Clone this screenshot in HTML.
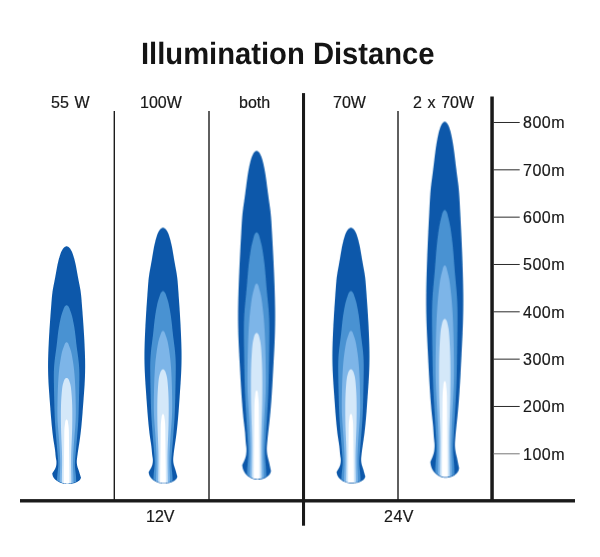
<!DOCTYPE html>
<html><head><meta charset="utf-8"><title>Illumination Distance</title>
<style>
html,body{margin:0;padding:0;background:#fff;}
body{width:600px;height:557px;position:relative;overflow:hidden;font-family:"Liberation Sans",sans-serif;}
svg{position:absolute;left:0;top:0;display:block;}
.t{position:absolute;white-space:nowrap;line-height:normal;color:#181818;-webkit-text-stroke:0.2px #181818;will-change:transform;font-family:"Liberation Sans",sans-serif;}
</style></head><body>
<svg width="600" height="557" viewBox="0 0 600 557">
<defs>
<clipPath id="c"><path d="M14.40,-9.40 L14.28,-9.97 L14.16,-10.54 L14.03,-11.11 L13.91,-11.68 L13.79,-12.25 L13.67,-12.82 L13.55,-13.39 L13.43,-13.96 L13.32,-14.53 L13.20,-15.10 L13.09,-15.63 L12.99,-16.16 L12.88,-16.69 L12.77,-17.22 L12.67,-17.75 L12.56,-18.28 L12.45,-18.81 L12.34,-19.34 L12.22,-19.87 L12.10,-20.40 L11.98,-20.92 L11.85,-21.44 L11.73,-21.96 L11.60,-22.48 L11.48,-23.00 L11.35,-23.51 L11.23,-24.03 L11.12,-24.55 L11.00,-25.08 L10.90,-25.60 L10.82,-26.06 L10.74,-26.51 L10.66,-26.97 L10.59,-27.43 L10.53,-27.89 L10.47,-28.35 L10.42,-28.81 L10.38,-29.27 L10.34,-29.74 L10.30,-30.20 L10.28,-30.57 L10.25,-30.94 L10.23,-31.31 L10.22,-31.68 L10.21,-32.05 L10.20,-32.42 L10.19,-32.79 L10.19,-33.16 L10.19,-33.53 L10.20,-33.90 L10.21,-34.28 L10.22,-34.66 L10.24,-35.04 L10.25,-35.42 L10.27,-35.80 L10.30,-36.18 L10.32,-36.56 L10.35,-36.94 L10.37,-37.32 L10.40,-37.70 L10.49,-38.93 L10.59,-40.16 L10.69,-41.39 L10.80,-42.62 L10.91,-43.85 L11.02,-45.08 L11.14,-46.31 L11.25,-47.54 L11.38,-48.77 L11.50,-50.00 L11.63,-51.25 L11.76,-52.50 L11.89,-53.75 L12.02,-55.00 L12.15,-56.25 L12.28,-57.50 L12.42,-58.75 L12.55,-60.00 L12.67,-61.25 L12.80,-62.50 L12.97,-64.22 L13.14,-65.94 L13.30,-67.66 L13.45,-69.38 L13.60,-71.10 L13.75,-72.82 L13.89,-74.54 L14.03,-76.26 L14.17,-77.98 L14.30,-79.70 L14.60,-83.90 L14.88,-88.09 L15.15,-92.29 L15.39,-96.49 L15.63,-100.69 L15.85,-104.89 L16.07,-109.09 L16.28,-113.30 L16.49,-117.50 L16.70,-121.70 L16.87,-125.03 L17.04,-128.36 L17.20,-131.69 L17.37,-135.02 L17.53,-138.35 L17.68,-141.68 L17.83,-145.01 L17.96,-148.34 L18.09,-151.67 L18.20,-155.00 L18.27,-157.27 L18.33,-159.54 L18.38,-161.81 L18.43,-164.08 L18.47,-166.35 L18.50,-168.62 L18.52,-170.89 L18.54,-173.16 L18.55,-175.43 L18.55,-177.70 L18.54,-179.93 L18.53,-182.16 L18.51,-184.39 L18.48,-186.62 L18.44,-188.85 L18.40,-191.08 L18.36,-193.31 L18.31,-195.54 L18.26,-197.77 L18.20,-200.00 L18.11,-203.37 L18.01,-206.74 L17.90,-210.11 L17.79,-213.48 L17.67,-216.85 L17.55,-220.22 L17.42,-223.59 L17.28,-226.96 L17.14,-230.33 L17.00,-233.70 L16.83,-237.58 L16.65,-241.46 L16.47,-245.34 L16.28,-249.22 L16.09,-253.10 L15.90,-256.98 L15.70,-260.86 L15.50,-264.74 L15.30,-268.62 L15.10,-272.50 L15.01,-274.22 L14.92,-275.94 L14.82,-277.67 L14.72,-279.39 L14.61,-281.11 L14.49,-282.83 L14.36,-284.55 L14.22,-286.27 L14.07,-287.98 L13.90,-289.70 L13.76,-290.97 L13.62,-292.24 L13.47,-293.51 L13.31,-294.79 L13.14,-296.05 L12.98,-297.32 L12.81,-298.59 L12.64,-299.86 L12.47,-301.13 L12.30,-302.40 L12.08,-304.10 L11.86,-305.80 L11.65,-307.50 L11.43,-309.20 L11.23,-310.90 L11.02,-312.60 L10.81,-314.30 L10.61,-316.00 L10.40,-317.70 L10.20,-319.40 L10.07,-320.48 L9.94,-321.56 L9.81,-322.65 L9.67,-323.73 L9.54,-324.81 L9.40,-325.89 L9.25,-326.97 L9.11,-328.05 L8.96,-329.12 L8.80,-330.20 L8.64,-331.28 L8.47,-332.36 L8.29,-333.44 L8.11,-334.52 L7.93,-335.60 L7.73,-336.68 L7.54,-337.75 L7.33,-338.83 L7.12,-339.92 L6.90,-341.00 L6.67,-342.10 L6.43,-343.20 L6.18,-344.30 L5.91,-345.40 L5.63,-346.48 L5.32,-347.56 L4.98,-348.62 L4.62,-349.67 L4.23,-350.69 L3.80,-351.70 L3.66,-352.00 L3.52,-352.31 L3.37,-352.60 L3.21,-352.90 L3.04,-353.19 L2.86,-353.48 L2.67,-353.77 L2.46,-354.05 L2.24,-354.33 L2.00,-354.60 L1.83,-354.78 L1.64,-354.96 L1.45,-355.13 L1.26,-355.29 L1.06,-355.43 L0.85,-355.56 L0.64,-355.66 L0.43,-355.73 L0.21,-355.78 L0.00,-355.80 L-0.21,-355.78 L-0.43,-355.73 L-0.64,-355.66 L-0.85,-355.56 L-1.06,-355.43 L-1.26,-355.29 L-1.45,-355.13 L-1.64,-354.96 L-1.83,-354.78 L-2.00,-354.60 L-2.24,-354.33 L-2.46,-354.05 L-2.67,-353.77 L-2.86,-353.48 L-3.04,-353.19 L-3.21,-352.90 L-3.37,-352.60 L-3.52,-352.31 L-3.66,-352.00 L-3.80,-351.70 L-4.23,-350.69 L-4.62,-349.67 L-4.98,-348.62 L-5.32,-347.56 L-5.63,-346.48 L-5.91,-345.40 L-6.18,-344.30 L-6.43,-343.20 L-6.67,-342.10 L-6.90,-341.00 L-7.12,-339.92 L-7.33,-338.83 L-7.54,-337.75 L-7.73,-336.68 L-7.93,-335.60 L-8.11,-334.52 L-8.29,-333.44 L-8.47,-332.36 L-8.64,-331.28 L-8.80,-330.20 L-8.96,-329.12 L-9.11,-328.05 L-9.25,-326.97 L-9.40,-325.89 L-9.54,-324.81 L-9.67,-323.73 L-9.81,-322.65 L-9.94,-321.56 L-10.07,-320.48 L-10.20,-319.40 L-10.40,-317.70 L-10.61,-316.00 L-10.81,-314.30 L-11.02,-312.60 L-11.23,-310.90 L-11.43,-309.20 L-11.65,-307.50 L-11.86,-305.80 L-12.08,-304.10 L-12.30,-302.40 L-12.47,-301.13 L-12.64,-299.86 L-12.81,-298.59 L-12.98,-297.32 L-13.14,-296.05 L-13.31,-294.79 L-13.47,-293.51 L-13.62,-292.24 L-13.76,-290.97 L-13.90,-289.70 L-14.07,-287.98 L-14.22,-286.27 L-14.36,-284.55 L-14.49,-282.83 L-14.61,-281.11 L-14.72,-279.39 L-14.82,-277.67 L-14.92,-275.94 L-15.01,-274.22 L-15.10,-272.50 L-15.30,-268.62 L-15.50,-264.74 L-15.70,-260.86 L-15.90,-256.98 L-16.09,-253.10 L-16.28,-249.22 L-16.47,-245.34 L-16.65,-241.46 L-16.83,-237.58 L-17.00,-233.70 L-17.14,-230.33 L-17.28,-226.96 L-17.42,-223.59 L-17.55,-220.22 L-17.67,-216.85 L-17.79,-213.48 L-17.90,-210.11 L-18.01,-206.74 L-18.11,-203.37 L-18.20,-200.00 L-18.26,-197.77 L-18.31,-195.54 L-18.36,-193.31 L-18.40,-191.08 L-18.44,-188.85 L-18.48,-186.62 L-18.51,-184.39 L-18.53,-182.16 L-18.54,-179.93 L-18.55,-177.70 L-18.55,-175.43 L-18.54,-173.16 L-18.52,-170.89 L-18.50,-168.62 L-18.47,-166.35 L-18.43,-164.08 L-18.38,-161.81 L-18.33,-159.54 L-18.27,-157.27 L-18.20,-155.00 L-18.09,-151.67 L-17.96,-148.34 L-17.83,-145.01 L-17.68,-141.68 L-17.53,-138.35 L-17.37,-135.02 L-17.21,-131.69 L-17.04,-128.36 L-16.87,-125.03 L-16.70,-121.70 L-16.49,-117.50 L-16.27,-113.30 L-16.06,-109.10 L-15.84,-104.89 L-15.61,-100.69 L-15.37,-96.49 L-15.13,-92.29 L-14.87,-88.09 L-14.59,-83.90 L-14.30,-79.70 L-14.17,-77.98 L-14.04,-76.26 L-13.91,-74.53 L-13.77,-72.81 L-13.63,-71.09 L-13.48,-69.37 L-13.32,-67.65 L-13.15,-65.94 L-12.98,-64.22 L-12.80,-62.50 L-12.66,-61.25 L-12.52,-60.00 L-12.38,-58.75 L-12.24,-57.50 L-12.10,-56.25 L-11.97,-55.00 L-11.84,-53.75 L-11.72,-52.50 L-11.60,-51.25 L-11.50,-50.00 L-11.41,-48.77 L-11.33,-47.54 L-11.25,-46.31 L-11.18,-45.08 L-11.11,-43.85 L-11.03,-42.62 L-10.94,-41.38 L-10.84,-40.16 L-10.73,-38.93 L-10.60,-37.70 L-10.56,-37.32 L-10.51,-36.94 L-10.47,-36.56 L-10.42,-36.18 L-10.38,-35.80 L-10.33,-35.42 L-10.29,-35.04 L-10.26,-34.66 L-10.23,-34.28 L-10.20,-33.90 L-10.18,-33.53 L-10.16,-33.16 L-10.15,-32.79 L-10.15,-32.42 L-10.15,-32.05 L-10.15,-31.68 L-10.16,-31.31 L-10.17,-30.94 L-10.18,-30.57 L-10.20,-30.20 L-10.23,-29.66 L-10.27,-29.13 L-10.31,-28.60 L-10.37,-28.06 L-10.43,-27.53 L-10.50,-27.00 L-10.58,-26.47 L-10.68,-25.94 L-10.78,-25.42 L-10.90,-24.90 L-11.02,-24.44 L-11.14,-23.98 L-11.27,-23.53 L-11.42,-23.08 L-11.57,-22.62 L-11.72,-22.18 L-11.88,-21.73 L-12.05,-21.28 L-12.22,-20.84 L-12.40,-20.40 L-12.59,-19.93 L-12.78,-19.47 L-12.98,-19.01 L-13.18,-18.55 L-13.38,-18.09 L-13.58,-17.63 L-13.78,-17.17 L-13.99,-16.71 L-14.19,-16.26 L-14.40,-15.80 L-14.34,-15.34 L-14.28,-14.89 L-14.22,-14.44 L-14.16,-13.98 L-14.08,-13.53 L-14.01,-13.08 L-13.92,-12.63 L-13.83,-12.19 L-13.72,-11.74 L-13.60,-11.30 L-13.43,-10.73 L-13.23,-10.17 L-13.01,-9.61 L-12.77,-9.06 L-12.51,-8.52 L-12.22,-7.99 L-11.92,-7.48 L-11.60,-6.97 L-11.26,-6.48 L-10.90,-6.00 L-10.55,-5.57 L-10.19,-5.15 L-9.81,-4.75 L-9.41,-4.36 L-9.01,-3.98 L-8.59,-3.62 L-8.16,-3.27 L-7.72,-2.93 L-7.26,-2.61 L-6.80,-2.30 L-6.41,-2.05 L-6.01,-1.82 L-5.60,-1.59 L-5.19,-1.38 L-4.77,-1.18 L-4.35,-1.00 L-3.92,-0.83 L-3.48,-0.67 L-3.04,-0.53 L-2.60,-0.40 L-2.34,-0.34 L-2.09,-0.28 L-1.83,-0.22 L-1.57,-0.17 L-1.31,-0.13 L-1.05,-0.09 L-0.79,-0.06 L-0.53,-0.04 L-0.26,-0.02 L0.00,-0.00 L0.34,0.01 L0.68,0.01 L1.02,0.01 L1.36,-0.00 L1.70,-0.02 L2.04,-0.05 L2.38,-0.08 L2.72,-0.11 L3.06,-0.16 L3.40,-0.20 L3.79,-0.26 L4.18,-0.32 L4.57,-0.38 L4.95,-0.46 L5.33,-0.54 L5.71,-0.63 L6.09,-0.73 L6.47,-0.84 L6.84,-0.96 L7.20,-1.10 L7.60,-1.27 L7.99,-1.45 L8.38,-1.65 L8.76,-1.86 L9.14,-2.08 L9.50,-2.32 L9.86,-2.58 L10.22,-2.84 L10.56,-3.11 L10.90,-3.40 L11.23,-3.69 L11.55,-4.00 L11.86,-4.31 L12.16,-4.64 L12.44,-4.97 L12.71,-5.32 L12.97,-5.67 L13.20,-6.04 L13.41,-6.41 L13.60,-6.80 L13.71,-7.05 L13.81,-7.30 L13.90,-7.55 L13.98,-7.81 L14.06,-8.07 L14.13,-8.34 L14.20,-8.60 L14.27,-8.87 L14.34,-9.13Z" transform="translate(0,-0.9)"/></clipPath>
<g id="p"><path d="M14.40,-9.40 L14.28,-9.97 L14.16,-10.54 L14.03,-11.11 L13.91,-11.68 L13.79,-12.25 L13.67,-12.82 L13.55,-13.39 L13.43,-13.96 L13.32,-14.53 L13.20,-15.10 L13.09,-15.63 L12.99,-16.16 L12.88,-16.69 L12.77,-17.22 L12.67,-17.75 L12.56,-18.28 L12.45,-18.81 L12.34,-19.34 L12.22,-19.87 L12.10,-20.40 L11.98,-20.92 L11.85,-21.44 L11.73,-21.96 L11.60,-22.48 L11.48,-23.00 L11.35,-23.51 L11.23,-24.03 L11.12,-24.55 L11.00,-25.08 L10.90,-25.60 L10.82,-26.06 L10.74,-26.51 L10.66,-26.97 L10.59,-27.43 L10.53,-27.89 L10.47,-28.35 L10.42,-28.81 L10.38,-29.27 L10.34,-29.74 L10.30,-30.20 L10.28,-30.57 L10.25,-30.94 L10.23,-31.31 L10.22,-31.68 L10.21,-32.05 L10.20,-32.42 L10.19,-32.79 L10.19,-33.16 L10.19,-33.53 L10.20,-33.90 L10.21,-34.28 L10.22,-34.66 L10.24,-35.04 L10.25,-35.42 L10.27,-35.80 L10.30,-36.18 L10.32,-36.56 L10.35,-36.94 L10.37,-37.32 L10.40,-37.70 L10.49,-38.93 L10.59,-40.16 L10.69,-41.39 L10.80,-42.62 L10.91,-43.85 L11.02,-45.08 L11.14,-46.31 L11.25,-47.54 L11.38,-48.77 L11.50,-50.00 L11.63,-51.25 L11.76,-52.50 L11.89,-53.75 L12.02,-55.00 L12.15,-56.25 L12.28,-57.50 L12.42,-58.75 L12.55,-60.00 L12.67,-61.25 L12.80,-62.50 L12.97,-64.22 L13.14,-65.94 L13.30,-67.66 L13.45,-69.38 L13.60,-71.10 L13.75,-72.82 L13.89,-74.54 L14.03,-76.26 L14.17,-77.98 L14.30,-79.70 L14.60,-83.90 L14.88,-88.09 L15.15,-92.29 L15.39,-96.49 L15.63,-100.69 L15.85,-104.89 L16.07,-109.09 L16.28,-113.30 L16.49,-117.50 L16.70,-121.70 L16.87,-125.03 L17.04,-128.36 L17.20,-131.69 L17.37,-135.02 L17.53,-138.35 L17.68,-141.68 L17.83,-145.01 L17.96,-148.34 L18.09,-151.67 L18.20,-155.00 L18.27,-157.27 L18.33,-159.54 L18.38,-161.81 L18.43,-164.08 L18.47,-166.35 L18.50,-168.62 L18.52,-170.89 L18.54,-173.16 L18.55,-175.43 L18.55,-177.70 L18.54,-179.93 L18.53,-182.16 L18.51,-184.39 L18.48,-186.62 L18.44,-188.85 L18.40,-191.08 L18.36,-193.31 L18.31,-195.54 L18.26,-197.77 L18.20,-200.00 L18.11,-203.37 L18.01,-206.74 L17.90,-210.11 L17.79,-213.48 L17.67,-216.85 L17.55,-220.22 L17.42,-223.59 L17.28,-226.96 L17.14,-230.33 L17.00,-233.70 L16.83,-237.58 L16.65,-241.46 L16.47,-245.34 L16.28,-249.22 L16.09,-253.10 L15.90,-256.98 L15.70,-260.86 L15.50,-264.74 L15.30,-268.62 L15.10,-272.50 L15.01,-274.22 L14.92,-275.94 L14.82,-277.67 L14.72,-279.39 L14.61,-281.11 L14.49,-282.83 L14.36,-284.55 L14.22,-286.27 L14.07,-287.98 L13.90,-289.70 L13.76,-290.97 L13.62,-292.24 L13.47,-293.51 L13.31,-294.79 L13.14,-296.05 L12.98,-297.32 L12.81,-298.59 L12.64,-299.86 L12.47,-301.13 L12.30,-302.40 L12.08,-304.10 L11.86,-305.80 L11.65,-307.50 L11.43,-309.20 L11.23,-310.90 L11.02,-312.60 L10.81,-314.30 L10.61,-316.00 L10.40,-317.70 L10.20,-319.40 L10.07,-320.48 L9.94,-321.56 L9.81,-322.65 L9.67,-323.73 L9.54,-324.81 L9.40,-325.89 L9.25,-326.97 L9.11,-328.05 L8.96,-329.12 L8.80,-330.20 L8.64,-331.28 L8.47,-332.36 L8.29,-333.44 L8.11,-334.52 L7.93,-335.60 L7.73,-336.68 L7.54,-337.75 L7.33,-338.83 L7.12,-339.92 L6.90,-341.00 L6.67,-342.10 L6.43,-343.20 L6.18,-344.30 L5.91,-345.40 L5.63,-346.48 L5.32,-347.56 L4.98,-348.62 L4.62,-349.67 L4.23,-350.69 L3.80,-351.70 L3.66,-352.00 L3.52,-352.31 L3.37,-352.60 L3.21,-352.90 L3.04,-353.19 L2.86,-353.48 L2.67,-353.77 L2.46,-354.05 L2.24,-354.33 L2.00,-354.60 L1.83,-354.78 L1.64,-354.96 L1.45,-355.13 L1.26,-355.29 L1.06,-355.43 L0.85,-355.56 L0.64,-355.66 L0.43,-355.73 L0.21,-355.78 L0.00,-355.80 L-0.21,-355.78 L-0.43,-355.73 L-0.64,-355.66 L-0.85,-355.56 L-1.06,-355.43 L-1.26,-355.29 L-1.45,-355.13 L-1.64,-354.96 L-1.83,-354.78 L-2.00,-354.60 L-2.24,-354.33 L-2.46,-354.05 L-2.67,-353.77 L-2.86,-353.48 L-3.04,-353.19 L-3.21,-352.90 L-3.37,-352.60 L-3.52,-352.31 L-3.66,-352.00 L-3.80,-351.70 L-4.23,-350.69 L-4.62,-349.67 L-4.98,-348.62 L-5.32,-347.56 L-5.63,-346.48 L-5.91,-345.40 L-6.18,-344.30 L-6.43,-343.20 L-6.67,-342.10 L-6.90,-341.00 L-7.12,-339.92 L-7.33,-338.83 L-7.54,-337.75 L-7.73,-336.68 L-7.93,-335.60 L-8.11,-334.52 L-8.29,-333.44 L-8.47,-332.36 L-8.64,-331.28 L-8.80,-330.20 L-8.96,-329.12 L-9.11,-328.05 L-9.25,-326.97 L-9.40,-325.89 L-9.54,-324.81 L-9.67,-323.73 L-9.81,-322.65 L-9.94,-321.56 L-10.07,-320.48 L-10.20,-319.40 L-10.40,-317.70 L-10.61,-316.00 L-10.81,-314.30 L-11.02,-312.60 L-11.23,-310.90 L-11.43,-309.20 L-11.65,-307.50 L-11.86,-305.80 L-12.08,-304.10 L-12.30,-302.40 L-12.47,-301.13 L-12.64,-299.86 L-12.81,-298.59 L-12.98,-297.32 L-13.14,-296.05 L-13.31,-294.79 L-13.47,-293.51 L-13.62,-292.24 L-13.76,-290.97 L-13.90,-289.70 L-14.07,-287.98 L-14.22,-286.27 L-14.36,-284.55 L-14.49,-282.83 L-14.61,-281.11 L-14.72,-279.39 L-14.82,-277.67 L-14.92,-275.94 L-15.01,-274.22 L-15.10,-272.50 L-15.30,-268.62 L-15.50,-264.74 L-15.70,-260.86 L-15.90,-256.98 L-16.09,-253.10 L-16.28,-249.22 L-16.47,-245.34 L-16.65,-241.46 L-16.83,-237.58 L-17.00,-233.70 L-17.14,-230.33 L-17.28,-226.96 L-17.42,-223.59 L-17.55,-220.22 L-17.67,-216.85 L-17.79,-213.48 L-17.90,-210.11 L-18.01,-206.74 L-18.11,-203.37 L-18.20,-200.00 L-18.26,-197.77 L-18.31,-195.54 L-18.36,-193.31 L-18.40,-191.08 L-18.44,-188.85 L-18.48,-186.62 L-18.51,-184.39 L-18.53,-182.16 L-18.54,-179.93 L-18.55,-177.70 L-18.55,-175.43 L-18.54,-173.16 L-18.52,-170.89 L-18.50,-168.62 L-18.47,-166.35 L-18.43,-164.08 L-18.38,-161.81 L-18.33,-159.54 L-18.27,-157.27 L-18.20,-155.00 L-18.09,-151.67 L-17.96,-148.34 L-17.83,-145.01 L-17.68,-141.68 L-17.53,-138.35 L-17.37,-135.02 L-17.21,-131.69 L-17.04,-128.36 L-16.87,-125.03 L-16.70,-121.70 L-16.49,-117.50 L-16.27,-113.30 L-16.06,-109.10 L-15.84,-104.89 L-15.61,-100.69 L-15.37,-96.49 L-15.13,-92.29 L-14.87,-88.09 L-14.59,-83.90 L-14.30,-79.70 L-14.17,-77.98 L-14.04,-76.26 L-13.91,-74.53 L-13.77,-72.81 L-13.63,-71.09 L-13.48,-69.37 L-13.32,-67.65 L-13.15,-65.94 L-12.98,-64.22 L-12.80,-62.50 L-12.66,-61.25 L-12.52,-60.00 L-12.38,-58.75 L-12.24,-57.50 L-12.10,-56.25 L-11.97,-55.00 L-11.84,-53.75 L-11.72,-52.50 L-11.60,-51.25 L-11.50,-50.00 L-11.41,-48.77 L-11.33,-47.54 L-11.25,-46.31 L-11.18,-45.08 L-11.11,-43.85 L-11.03,-42.62 L-10.94,-41.38 L-10.84,-40.16 L-10.73,-38.93 L-10.60,-37.70 L-10.56,-37.32 L-10.51,-36.94 L-10.47,-36.56 L-10.42,-36.18 L-10.38,-35.80 L-10.33,-35.42 L-10.29,-35.04 L-10.26,-34.66 L-10.23,-34.28 L-10.20,-33.90 L-10.18,-33.53 L-10.16,-33.16 L-10.15,-32.79 L-10.15,-32.42 L-10.15,-32.05 L-10.15,-31.68 L-10.16,-31.31 L-10.17,-30.94 L-10.18,-30.57 L-10.20,-30.20 L-10.23,-29.66 L-10.27,-29.13 L-10.31,-28.60 L-10.37,-28.06 L-10.43,-27.53 L-10.50,-27.00 L-10.58,-26.47 L-10.68,-25.94 L-10.78,-25.42 L-10.90,-24.90 L-11.02,-24.44 L-11.14,-23.98 L-11.27,-23.53 L-11.42,-23.08 L-11.57,-22.62 L-11.72,-22.18 L-11.88,-21.73 L-12.05,-21.28 L-12.22,-20.84 L-12.40,-20.40 L-12.59,-19.93 L-12.78,-19.47 L-12.98,-19.01 L-13.18,-18.55 L-13.38,-18.09 L-13.58,-17.63 L-13.78,-17.17 L-13.99,-16.71 L-14.19,-16.26 L-14.40,-15.80 L-14.34,-15.34 L-14.28,-14.89 L-14.22,-14.44 L-14.16,-13.98 L-14.08,-13.53 L-14.01,-13.08 L-13.92,-12.63 L-13.83,-12.19 L-13.72,-11.74 L-13.60,-11.30 L-13.43,-10.73 L-13.23,-10.17 L-13.01,-9.61 L-12.77,-9.06 L-12.51,-8.52 L-12.22,-7.99 L-11.92,-7.48 L-11.60,-6.97 L-11.26,-6.48 L-10.90,-6.00 L-10.55,-5.57 L-10.19,-5.15 L-9.81,-4.75 L-9.41,-4.36 L-9.01,-3.98 L-8.59,-3.62 L-8.16,-3.27 L-7.72,-2.93 L-7.26,-2.61 L-6.80,-2.30 L-6.41,-2.05 L-6.01,-1.82 L-5.60,-1.59 L-5.19,-1.38 L-4.77,-1.18 L-4.35,-1.00 L-3.92,-0.83 L-3.48,-0.67 L-3.04,-0.53 L-2.60,-0.40 L-2.34,-0.34 L-2.09,-0.28 L-1.83,-0.22 L-1.57,-0.17 L-1.31,-0.13 L-1.05,-0.09 L-0.79,-0.06 L-0.53,-0.04 L-0.26,-0.02 L0.00,-0.00 L0.34,0.01 L0.68,0.01 L1.02,0.01 L1.36,-0.00 L1.70,-0.02 L2.04,-0.05 L2.38,-0.08 L2.72,-0.11 L3.06,-0.16 L3.40,-0.20 L3.79,-0.26 L4.18,-0.32 L4.57,-0.38 L4.95,-0.46 L5.33,-0.54 L5.71,-0.63 L6.09,-0.73 L6.47,-0.84 L6.84,-0.96 L7.20,-1.10 L7.60,-1.27 L7.99,-1.45 L8.38,-1.65 L8.76,-1.86 L9.14,-2.08 L9.50,-2.32 L9.86,-2.58 L10.22,-2.84 L10.56,-3.11 L10.90,-3.40 L11.23,-3.69 L11.55,-4.00 L11.86,-4.31 L12.16,-4.64 L12.44,-4.97 L12.71,-5.32 L12.97,-5.67 L13.20,-6.04 L13.41,-6.41 L13.60,-6.80 L13.71,-7.05 L13.81,-7.30 L13.90,-7.55 L13.98,-7.81 L14.06,-8.07 L14.13,-8.34 L14.20,-8.60 L14.27,-8.87 L14.34,-9.13Z" fill="#0c59aa"/><g clip-path="url(#c)">
<path d="M9.90,8.00 L9.87,6.80 L9.83,5.60 L9.80,4.40 L9.77,3.20 L9.74,2.00 L9.71,0.80 L9.68,-0.40 L9.65,-1.60 L9.63,-2.80 L9.60,-4.00 L9.59,-4.70 L9.57,-5.40 L9.56,-6.10 L9.54,-6.80 L9.52,-7.50 L9.51,-8.20 L9.48,-8.90 L9.46,-9.60 L9.43,-10.30 L9.40,-11.00 L9.34,-12.10 L9.27,-13.20 L9.20,-14.30 L9.11,-15.40 L9.03,-16.50 L8.94,-17.60 L8.85,-18.70 L8.76,-19.80 L8.68,-20.90 L8.60,-22.00 L8.55,-22.80 L8.50,-23.60 L8.45,-24.40 L8.41,-25.20 L8.38,-26.00 L8.35,-26.80 L8.32,-27.60 L8.31,-28.40 L8.30,-29.20 L8.30,-30.00 L8.31,-30.77 L8.32,-31.54 L8.34,-32.31 L8.37,-33.08 L8.40,-33.85 L8.44,-34.62 L8.47,-35.39 L8.51,-36.16 L8.56,-36.93 L8.60,-37.70 L8.84,-41.90 L9.08,-46.10 L9.33,-50.30 L9.57,-54.50 L9.82,-58.70 L10.06,-62.90 L10.31,-67.10 L10.54,-71.30 L10.77,-75.50 L11.00,-79.70 L11.05,-80.73 L11.11,-81.76 L11.16,-82.79 L11.21,-83.82 L11.26,-84.85 L11.31,-85.88 L11.36,-86.91 L11.41,-87.94 L11.46,-88.97 L11.50,-90.00 L11.63,-93.17 L11.74,-96.34 L11.84,-99.51 L11.93,-102.68 L12.00,-105.85 L12.07,-109.02 L12.14,-112.19 L12.19,-115.36 L12.25,-118.53 L12.30,-121.70 L12.35,-124.53 L12.39,-127.36 L12.43,-130.19 L12.48,-133.02 L12.52,-135.85 L12.56,-138.68 L12.60,-141.51 L12.63,-144.34 L12.67,-147.17 L12.70,-150.00 L12.73,-152.77 L12.75,-155.54 L12.77,-158.32 L12.78,-161.09 L12.77,-163.86 L12.74,-166.63 L12.69,-169.40 L12.62,-172.17 L12.53,-174.93 L12.40,-177.70 L12.24,-180.49 L12.05,-183.28 L11.84,-186.08 L11.61,-188.86 L11.36,-191.65 L11.11,-194.44 L10.85,-197.23 L10.59,-200.02 L10.34,-202.81 L10.10,-205.60 L9.87,-208.41 L9.65,-211.22 L9.44,-214.04 L9.24,-216.85 L9.03,-219.66 L8.81,-222.47 L8.59,-225.28 L8.35,-228.09 L8.08,-230.90 L7.80,-233.70 L7.67,-234.90 L7.53,-236.10 L7.39,-237.30 L7.25,-238.50 L7.10,-239.70 L6.95,-240.90 L6.79,-242.10 L6.63,-243.30 L6.47,-244.50 L6.30,-245.70 L6.22,-246.28 L6.14,-246.86 L6.05,-247.45 L5.97,-248.03 L5.88,-248.61 L5.79,-249.19 L5.70,-249.77 L5.60,-250.35 L5.50,-250.92 L5.40,-251.50 L5.30,-252.03 L5.20,-252.56 L5.10,-253.09 L4.99,-253.62 L4.88,-254.15 L4.77,-254.68 L4.66,-255.21 L4.54,-255.74 L4.42,-256.27 L4.30,-256.80 L4.17,-257.35 L4.04,-257.89 L3.91,-258.44 L3.78,-258.99 L3.65,-259.53 L3.52,-260.07 L3.38,-260.61 L3.25,-261.14 L3.13,-261.67 L3.00,-262.20 L2.90,-262.62 L2.80,-263.04 L2.69,-263.46 L2.57,-263.87 L2.43,-264.29 L2.28,-264.70 L2.10,-265.12 L1.90,-265.54 L1.67,-265.97 L1.40,-266.40 L1.28,-266.58 L1.15,-266.75 L1.02,-266.92 L0.88,-267.08 L0.74,-267.22 L0.60,-267.35 L0.45,-267.45 L0.30,-267.53 L0.15,-267.58 L0.00,-267.60 L-0.15,-267.58 L-0.30,-267.53 L-0.45,-267.45 L-0.60,-267.35 L-0.74,-267.22 L-0.88,-267.08 L-1.02,-266.92 L-1.15,-266.75 L-1.28,-266.58 L-1.40,-266.40 L-1.67,-265.97 L-1.90,-265.54 L-2.10,-265.12 L-2.28,-264.70 L-2.43,-264.29 L-2.57,-263.87 L-2.69,-263.46 L-2.80,-263.04 L-2.90,-262.62 L-3.00,-262.20 L-3.13,-261.67 L-3.25,-261.14 L-3.38,-260.61 L-3.52,-260.07 L-3.65,-259.53 L-3.78,-258.99 L-3.91,-258.44 L-4.04,-257.89 L-4.17,-257.35 L-4.30,-256.80 L-4.42,-256.27 L-4.54,-255.74 L-4.66,-255.21 L-4.77,-254.68 L-4.88,-254.15 L-4.99,-253.62 L-5.10,-253.09 L-5.20,-252.56 L-5.30,-252.03 L-5.40,-251.50 L-5.50,-250.92 L-5.60,-250.35 L-5.70,-249.77 L-5.79,-249.19 L-5.88,-248.61 L-5.97,-248.03 L-6.05,-247.45 L-6.14,-246.86 L-6.22,-246.28 L-6.30,-245.70 L-6.47,-244.50 L-6.63,-243.30 L-6.79,-242.10 L-6.95,-240.90 L-7.10,-239.70 L-7.25,-238.50 L-7.39,-237.30 L-7.53,-236.10 L-7.67,-234.90 L-7.80,-233.70 L-8.08,-230.90 L-8.35,-228.09 L-8.59,-225.28 L-8.81,-222.47 L-9.03,-219.66 L-9.24,-216.85 L-9.44,-214.04 L-9.65,-211.22 L-9.87,-208.41 L-10.10,-205.60 L-10.34,-202.81 L-10.59,-200.02 L-10.85,-197.23 L-11.11,-194.44 L-11.36,-191.65 L-11.61,-188.86 L-11.84,-186.08 L-12.05,-183.28 L-12.24,-180.49 L-12.40,-177.70 L-12.53,-174.93 L-12.62,-172.17 L-12.69,-169.40 L-12.74,-166.63 L-12.77,-163.86 L-12.78,-161.09 L-12.77,-158.32 L-12.75,-155.54 L-12.73,-152.77 L-12.70,-150.00 L-12.67,-147.17 L-12.63,-144.34 L-12.60,-141.51 L-12.56,-138.68 L-12.52,-135.85 L-12.48,-133.02 L-12.43,-130.19 L-12.39,-127.36 L-12.35,-124.53 L-12.30,-121.70 L-12.25,-118.53 L-12.19,-115.36 L-12.14,-112.19 L-12.07,-109.02 L-12.00,-105.85 L-11.93,-102.68 L-11.84,-99.51 L-11.74,-96.34 L-11.63,-93.17 L-11.50,-90.00 L-11.46,-88.97 L-11.41,-87.94 L-11.36,-86.91 L-11.31,-85.88 L-11.26,-84.85 L-11.21,-83.82 L-11.16,-82.79 L-11.11,-81.76 L-11.05,-80.73 L-11.00,-79.70 L-10.77,-75.50 L-10.54,-71.30 L-10.31,-67.10 L-10.06,-62.90 L-9.82,-58.70 L-9.57,-54.50 L-9.33,-50.30 L-9.08,-46.10 L-8.84,-41.90 L-8.60,-37.70 L-8.56,-36.93 L-8.51,-36.16 L-8.47,-35.39 L-8.44,-34.62 L-8.40,-33.85 L-8.37,-33.08 L-8.34,-32.31 L-8.32,-31.54 L-8.31,-30.77 L-8.30,-30.00 L-8.30,-29.20 L-8.31,-28.40 L-8.32,-27.60 L-8.35,-26.80 L-8.38,-26.00 L-8.41,-25.20 L-8.45,-24.40 L-8.50,-23.60 L-8.55,-22.80 L-8.60,-22.00 L-8.68,-20.90 L-8.76,-19.80 L-8.85,-18.70 L-8.94,-17.60 L-9.03,-16.50 L-9.11,-15.40 L-9.20,-14.30 L-9.27,-13.20 L-9.34,-12.10 L-9.40,-11.00 L-9.43,-10.30 L-9.46,-9.60 L-9.48,-8.90 L-9.51,-8.20 L-9.52,-7.50 L-9.54,-6.80 L-9.56,-6.10 L-9.57,-5.40 L-9.59,-4.70 L-9.60,-4.00 L-9.63,-2.80 L-9.65,-1.60 L-9.68,-0.40 L-9.71,0.80 L-9.74,2.00 L-9.77,3.20 L-9.80,4.40 L-9.83,5.60 L-9.87,6.80 L-9.90,8.00Z" fill="#4a92d2"/>
<path d="M7.10,8.00 L7.08,6.80 L7.06,5.60 L7.03,4.40 L7.01,3.20 L6.99,2.00 L6.97,0.80 L6.95,-0.40 L6.93,-1.60 L6.92,-2.80 L6.90,-4.00 L6.89,-4.70 L6.88,-5.40 L6.87,-6.10 L6.87,-6.80 L6.86,-7.50 L6.85,-8.20 L6.84,-8.90 L6.83,-9.60 L6.81,-10.30 L6.80,-11.00 L6.78,-12.10 L6.75,-13.20 L6.72,-14.30 L6.69,-15.40 L6.66,-16.50 L6.62,-17.60 L6.59,-18.70 L6.56,-19.80 L6.53,-20.90 L6.50,-22.00 L6.48,-22.80 L6.46,-23.60 L6.45,-24.40 L6.44,-25.20 L6.42,-26.00 L6.42,-26.80 L6.41,-27.60 L6.40,-28.40 L6.40,-29.20 L6.40,-30.00 L6.40,-30.77 L6.41,-31.54 L6.41,-32.31 L6.42,-33.08 L6.43,-33.85 L6.44,-34.62 L6.45,-35.39 L6.47,-36.16 L6.48,-36.93 L6.50,-37.70 L6.60,-41.90 L6.73,-46.10 L6.88,-50.31 L7.05,-54.51 L7.24,-58.71 L7.43,-62.90 L7.64,-67.10 L7.86,-71.30 L8.08,-75.50 L8.30,-79.70 L8.38,-81.23 L8.46,-82.76 L8.54,-84.29 L8.62,-85.82 L8.69,-87.35 L8.76,-88.88 L8.83,-90.41 L8.89,-91.94 L8.95,-93.47 L9.00,-95.00 L9.07,-97.67 L9.13,-100.34 L9.16,-103.01 L9.19,-105.68 L9.19,-108.35 L9.19,-111.02 L9.18,-113.69 L9.16,-116.36 L9.13,-119.03 L9.10,-121.70 L9.06,-124.53 L9.02,-127.36 L8.98,-130.19 L8.93,-133.02 L8.88,-135.85 L8.82,-138.68 L8.75,-141.51 L8.67,-144.34 L8.59,-147.17 L8.50,-150.00 L8.40,-152.77 L8.29,-155.55 L8.17,-158.32 L8.04,-161.09 L7.89,-163.86 L7.73,-166.64 L7.55,-169.40 L7.35,-172.17 L7.14,-174.94 L6.90,-177.70 L6.77,-179.10 L6.64,-180.50 L6.50,-181.90 L6.35,-183.30 L6.20,-184.70 L6.05,-186.10 L5.89,-187.50 L5.73,-188.90 L5.57,-190.30 L5.40,-191.70 L5.33,-192.28 L5.26,-192.86 L5.19,-193.45 L5.11,-194.03 L5.03,-194.61 L4.95,-195.19 L4.87,-195.77 L4.78,-196.35 L4.69,-196.92 L4.60,-197.50 L4.51,-198.03 L4.41,-198.56 L4.31,-199.09 L4.21,-199.62 L4.10,-200.15 L3.99,-200.68 L3.87,-201.21 L3.75,-201.74 L3.63,-202.27 L3.50,-202.80 L3.36,-203.35 L3.23,-203.89 L3.09,-204.44 L2.95,-204.99 L2.81,-205.53 L2.67,-206.07 L2.53,-206.61 L2.40,-207.15 L2.27,-207.68 L2.15,-208.20 L2.08,-208.50 L2.02,-208.79 L1.95,-209.09 L1.87,-209.38 L1.78,-209.68 L1.68,-209.98 L1.57,-210.28 L1.43,-210.58 L1.28,-210.89 L1.10,-211.20 L1.01,-211.35 L0.91,-211.49 L0.81,-211.63 L0.70,-211.76 L0.59,-211.88 L0.47,-211.99 L0.36,-212.08 L0.24,-212.14 L0.12,-212.19 L0.00,-212.20 L-0.12,-212.19 L-0.24,-212.14 L-0.36,-212.08 L-0.47,-211.99 L-0.59,-211.88 L-0.70,-211.76 L-0.81,-211.63 L-0.91,-211.49 L-1.01,-211.35 L-1.10,-211.20 L-1.28,-210.89 L-1.43,-210.58 L-1.57,-210.28 L-1.68,-209.98 L-1.78,-209.68 L-1.87,-209.38 L-1.95,-209.09 L-2.02,-208.79 L-2.08,-208.50 L-2.15,-208.20 L-2.27,-207.68 L-2.40,-207.15 L-2.53,-206.61 L-2.67,-206.07 L-2.81,-205.53 L-2.95,-204.99 L-3.09,-204.44 L-3.23,-203.89 L-3.36,-203.35 L-3.50,-202.80 L-3.63,-202.27 L-3.75,-201.74 L-3.87,-201.21 L-3.99,-200.68 L-4.10,-200.15 L-4.21,-199.62 L-4.31,-199.09 L-4.41,-198.56 L-4.51,-198.03 L-4.60,-197.50 L-4.69,-196.92 L-4.78,-196.35 L-4.87,-195.77 L-4.95,-195.19 L-5.03,-194.61 L-5.11,-194.03 L-5.19,-193.45 L-5.26,-192.86 L-5.33,-192.28 L-5.40,-191.70 L-5.57,-190.30 L-5.73,-188.90 L-5.89,-187.50 L-6.05,-186.10 L-6.20,-184.70 L-6.35,-183.30 L-6.50,-181.90 L-6.64,-180.50 L-6.77,-179.10 L-6.90,-177.70 L-7.14,-174.94 L-7.35,-172.17 L-7.55,-169.40 L-7.73,-166.64 L-7.89,-163.86 L-8.04,-161.09 L-8.17,-158.32 L-8.29,-155.55 L-8.40,-152.77 L-8.50,-150.00 L-8.59,-147.17 L-8.67,-144.34 L-8.75,-141.51 L-8.82,-138.68 L-8.88,-135.85 L-8.93,-133.02 L-8.98,-130.19 L-9.02,-127.36 L-9.06,-124.53 L-9.10,-121.70 L-9.13,-119.03 L-9.16,-116.36 L-9.18,-113.69 L-9.19,-111.02 L-9.19,-108.35 L-9.19,-105.68 L-9.16,-103.01 L-9.13,-100.34 L-9.07,-97.67 L-9.00,-95.00 L-8.95,-93.47 L-8.89,-91.94 L-8.83,-90.41 L-8.76,-88.88 L-8.69,-87.35 L-8.62,-85.82 L-8.54,-84.29 L-8.46,-82.76 L-8.38,-81.23 L-8.30,-79.70 L-8.08,-75.50 L-7.86,-71.30 L-7.64,-67.10 L-7.43,-62.90 L-7.24,-58.71 L-7.05,-54.51 L-6.88,-50.31 L-6.73,-46.10 L-6.60,-41.90 L-6.50,-37.70 L-6.48,-36.93 L-6.47,-36.16 L-6.45,-35.39 L-6.44,-34.62 L-6.43,-33.85 L-6.42,-33.08 L-6.41,-32.31 L-6.41,-31.54 L-6.40,-30.77 L-6.40,-30.00 L-6.40,-29.20 L-6.40,-28.40 L-6.41,-27.60 L-6.42,-26.80 L-6.42,-26.00 L-6.44,-25.20 L-6.45,-24.40 L-6.46,-23.60 L-6.48,-22.80 L-6.50,-22.00 L-6.53,-20.90 L-6.56,-19.80 L-6.59,-18.70 L-6.62,-17.60 L-6.66,-16.50 L-6.69,-15.40 L-6.72,-14.30 L-6.75,-13.20 L-6.78,-12.10 L-6.80,-11.00 L-6.81,-10.30 L-6.83,-9.60 L-6.84,-8.90 L-6.85,-8.20 L-6.86,-7.50 L-6.87,-6.80 L-6.87,-6.10 L-6.88,-5.40 L-6.89,-4.70 L-6.90,-4.00 L-6.92,-2.80 L-6.93,-1.60 L-6.95,-0.40 L-6.97,0.80 L-6.99,2.00 L-7.01,3.20 L-7.03,4.40 L-7.06,5.60 L-7.08,6.80 L-7.10,8.00Z" fill="#7db5e8"/>
<path d="M4.80,8.00 L4.79,6.10 L4.79,4.20 L4.78,2.30 L4.77,0.40 L4.77,-1.50 L4.76,-3.40 L4.75,-5.30 L4.73,-7.20 L4.72,-9.10 L4.70,-11.00 L4.68,-12.90 L4.66,-14.80 L4.64,-16.70 L4.61,-18.60 L4.59,-20.50 L4.57,-22.40 L4.55,-24.30 L4.53,-26.20 L4.51,-28.10 L4.50,-30.00 L4.50,-30.77 L4.49,-31.54 L4.49,-32.31 L4.49,-33.08 L4.49,-33.85 L4.49,-34.62 L4.49,-35.39 L4.49,-36.16 L4.50,-36.93 L4.50,-37.70 L4.54,-41.90 L4.61,-46.10 L4.70,-50.30 L4.81,-54.50 L4.93,-58.70 L5.05,-62.90 L5.18,-67.10 L5.30,-71.30 L5.41,-75.50 L5.50,-79.70 L5.54,-81.73 L5.57,-83.76 L5.60,-85.79 L5.62,-87.82 L5.64,-89.85 L5.66,-91.88 L5.68,-93.91 L5.69,-95.94 L5.69,-97.97 L5.70,-100.00 L5.70,-102.17 L5.70,-104.34 L5.70,-106.51 L5.69,-108.68 L5.68,-110.85 L5.66,-113.02 L5.63,-115.19 L5.60,-117.36 L5.55,-119.53 L5.50,-121.70 L5.45,-123.30 L5.40,-124.90 L5.35,-126.50 L5.28,-128.10 L5.22,-129.70 L5.14,-131.30 L5.06,-132.90 L4.98,-134.50 L4.89,-136.10 L4.80,-137.70 L4.76,-138.28 L4.73,-138.86 L4.69,-139.44 L4.65,-140.02 L4.62,-140.60 L4.58,-141.18 L4.53,-141.76 L4.49,-142.34 L4.45,-142.92 L4.40,-143.50 L4.36,-144.03 L4.31,-144.56 L4.26,-145.09 L4.21,-145.62 L4.15,-146.15 L4.09,-146.68 L4.03,-147.21 L3.96,-147.74 L3.88,-148.27 L3.80,-148.80 L3.71,-149.35 L3.61,-149.89 L3.51,-150.44 L3.40,-150.98 L3.29,-151.53 L3.17,-152.07 L3.06,-152.61 L2.94,-153.14 L2.82,-153.67 L2.70,-154.20 L2.62,-154.57 L2.53,-154.93 L2.44,-155.30 L2.33,-155.66 L2.22,-156.02 L2.08,-156.38 L1.93,-156.73 L1.75,-157.09 L1.54,-157.45 L1.30,-157.80 L1.19,-157.95 L1.07,-158.10 L0.95,-158.24 L0.82,-158.37 L0.69,-158.49 L0.56,-158.59 L0.42,-158.68 L0.28,-158.74 L0.14,-158.79 L0.00,-158.80 L-0.14,-158.79 L-0.28,-158.74 L-0.42,-158.68 L-0.56,-158.59 L-0.69,-158.49 L-0.82,-158.37 L-0.95,-158.24 L-1.07,-158.10 L-1.19,-157.95 L-1.30,-157.80 L-1.54,-157.45 L-1.75,-157.09 L-1.93,-156.73 L-2.08,-156.38 L-2.22,-156.02 L-2.33,-155.66 L-2.44,-155.30 L-2.53,-154.93 L-2.62,-154.57 L-2.70,-154.20 L-2.82,-153.67 L-2.94,-153.14 L-3.06,-152.61 L-3.17,-152.07 L-3.29,-151.53 L-3.40,-150.98 L-3.51,-150.44 L-3.61,-149.89 L-3.71,-149.35 L-3.80,-148.80 L-3.88,-148.27 L-3.96,-147.74 L-4.03,-147.21 L-4.09,-146.68 L-4.15,-146.15 L-4.21,-145.62 L-4.26,-145.09 L-4.31,-144.56 L-4.36,-144.03 L-4.40,-143.50 L-4.45,-142.92 L-4.49,-142.34 L-4.53,-141.76 L-4.58,-141.18 L-4.62,-140.60 L-4.65,-140.02 L-4.69,-139.44 L-4.73,-138.86 L-4.76,-138.28 L-4.80,-137.70 L-4.89,-136.10 L-4.98,-134.50 L-5.06,-132.90 L-5.14,-131.30 L-5.22,-129.70 L-5.28,-128.10 L-5.35,-126.50 L-5.40,-124.90 L-5.45,-123.30 L-5.50,-121.70 L-5.55,-119.53 L-5.60,-117.36 L-5.63,-115.19 L-5.66,-113.02 L-5.68,-110.85 L-5.69,-108.68 L-5.70,-106.51 L-5.70,-104.34 L-5.70,-102.17 L-5.70,-100.00 L-5.69,-97.97 L-5.69,-95.94 L-5.68,-93.91 L-5.66,-91.88 L-5.64,-89.85 L-5.62,-87.82 L-5.60,-85.79 L-5.57,-83.76 L-5.54,-81.73 L-5.50,-79.70 L-5.41,-75.50 L-5.30,-71.30 L-5.18,-67.10 L-5.05,-62.90 L-4.93,-58.70 L-4.81,-54.50 L-4.70,-50.30 L-4.61,-46.10 L-4.54,-41.90 L-4.50,-37.70 L-4.50,-36.93 L-4.49,-36.16 L-4.49,-35.39 L-4.49,-34.62 L-4.49,-33.85 L-4.49,-33.08 L-4.49,-32.31 L-4.49,-31.54 L-4.50,-30.77 L-4.50,-30.00 L-4.51,-28.10 L-4.53,-26.20 L-4.55,-24.30 L-4.57,-22.40 L-4.59,-20.50 L-4.61,-18.60 L-4.64,-16.70 L-4.66,-14.80 L-4.68,-12.90 L-4.70,-11.00 L-4.72,-9.10 L-4.73,-7.20 L-4.75,-5.30 L-4.76,-3.40 L-4.77,-1.50 L-4.77,0.40 L-4.78,2.30 L-4.79,4.20 L-4.79,6.10 L-4.80,8.00Z" fill="#d4e8f9"/>
<path d="M2.80,8.00 L2.80,6.10 L2.81,4.20 L2.81,2.30 L2.81,0.40 L2.81,-1.50 L2.81,-3.40 L2.81,-5.30 L2.81,-7.20 L2.81,-9.10 L2.80,-11.00 L2.79,-13.67 L2.78,-16.34 L2.76,-19.01 L2.74,-21.68 L2.72,-24.35 L2.70,-27.02 L2.67,-29.69 L2.65,-32.36 L2.62,-35.03 L2.60,-37.70 L2.58,-40.18 L2.56,-42.66 L2.53,-45.13 L2.51,-47.61 L2.49,-50.09 L2.47,-52.57 L2.46,-55.05 L2.44,-57.53 L2.42,-60.02 L2.40,-62.50 L2.39,-63.83 L2.38,-65.17 L2.37,-66.50 L2.36,-67.83 L2.35,-69.16 L2.34,-70.49 L2.33,-71.82 L2.32,-73.15 L2.31,-74.48 L2.30,-75.80 L2.29,-76.90 L2.28,-78.01 L2.26,-79.11 L2.24,-80.21 L2.21,-81.32 L2.17,-82.42 L2.13,-83.53 L2.06,-84.65 L1.99,-85.77 L1.90,-86.90 L1.85,-87.45 L1.80,-88.01 L1.74,-88.56 L1.69,-89.11 L1.63,-89.66 L1.58,-90.20 L1.53,-90.74 L1.48,-91.27 L1.44,-91.79 L1.40,-92.30 L1.38,-92.63 L1.36,-92.96 L1.33,-93.29 L1.30,-93.62 L1.25,-93.96 L1.19,-94.30 L1.10,-94.66 L1.00,-95.02 L0.86,-95.40 L0.70,-95.80 L0.64,-95.93 L0.58,-96.06 L0.51,-96.19 L0.44,-96.30 L0.37,-96.41 L0.30,-96.51 L0.23,-96.59 L0.15,-96.65 L0.08,-96.69 L0.00,-96.70 L-0.08,-96.69 L-0.15,-96.65 L-0.23,-96.59 L-0.30,-96.51 L-0.37,-96.41 L-0.44,-96.30 L-0.51,-96.19 L-0.58,-96.06 L-0.64,-95.93 L-0.70,-95.80 L-0.86,-95.40 L-1.00,-95.02 L-1.10,-94.66 L-1.19,-94.30 L-1.25,-93.96 L-1.30,-93.62 L-1.33,-93.29 L-1.36,-92.96 L-1.38,-92.63 L-1.40,-92.30 L-1.44,-91.79 L-1.48,-91.27 L-1.53,-90.74 L-1.58,-90.20 L-1.63,-89.66 L-1.69,-89.11 L-1.74,-88.56 L-1.80,-88.01 L-1.85,-87.45 L-1.90,-86.90 L-1.99,-85.77 L-2.06,-84.65 L-2.13,-83.53 L-2.17,-82.42 L-2.21,-81.32 L-2.24,-80.21 L-2.26,-79.11 L-2.28,-78.01 L-2.29,-76.90 L-2.30,-75.80 L-2.31,-74.48 L-2.32,-73.15 L-2.33,-71.82 L-2.34,-70.49 L-2.35,-69.16 L-2.36,-67.83 L-2.37,-66.50 L-2.38,-65.17 L-2.39,-63.83 L-2.40,-62.50 L-2.42,-60.02 L-2.44,-57.53 L-2.46,-55.05 L-2.47,-52.57 L-2.49,-50.09 L-2.51,-47.61 L-2.53,-45.13 L-2.56,-42.66 L-2.58,-40.18 L-2.60,-37.70 L-2.62,-35.03 L-2.65,-32.36 L-2.67,-29.69 L-2.70,-27.02 L-2.72,-24.35 L-2.74,-21.68 L-2.76,-19.01 L-2.78,-16.34 L-2.79,-13.67 L-2.80,-11.00 L-2.81,-9.10 L-2.81,-7.20 L-2.81,-5.30 L-2.81,-3.40 L-2.81,-1.50 L-2.81,0.40 L-2.81,2.30 L-2.81,4.20 L-2.80,6.10 L-2.80,8.00Z" fill="#ffffff"/>
</g></g>
<filter id="b" x="-10%" y="-5%" width="120%" height="110%"><feGaussianBlur stdDeviation="0.45"/></filter>
</defs>
<g filter="url(#b)">
<use href="#p" transform="translate(66.60,484.00) scale(1,0.6681)"/>
<use href="#p" transform="translate(163.00,483.40) scale(1,0.7187)"/>
<use href="#p" transform="translate(256.60,479.60) scale(1,0.9241)"/>
<use href="#p" transform="translate(350.90,483.30) scale(1,0.7184)"/>
<use href="#p" transform="translate(444.70,477.70) scale(1,1.0006)"/>
</g>
<g fill="#1c1c1c">
<rect x="113.60" y="111" width="1.40" height="389"/>
<rect x="208.30" y="111" width="1.40" height="389"/>
<rect x="397.30" y="111" width="1.40" height="389"/>
</g><g fill="#1a1a1a">
<rect x="20" y="499.1" width="555" height="3.4"/>
<rect x="302" y="93.1" width="3.05" height="432.6"/>
<rect x="490.3" y="96.5" width="3.5" height="405"/>
</g><g fill="#2b2b2b">
<rect x="493.5" y="453.30" width="26.2" height="1" fill="#777"/>
<rect x="493.5" y="405.97" width="26.2" height="1"/>
<rect x="493.5" y="358.64" width="26.2" height="1"/>
<rect x="493.5" y="311.31" width="26.2" height="1"/>
<rect x="493.5" y="263.98" width="26.2" height="1"/>
<rect x="493.5" y="216.65" width="26.2" height="1"/>
<rect x="493.5" y="169.32" width="26.2" height="1"/>
<rect x="493.5" y="121.99" width="26.2" height="1"/>
</g>
</svg>
<div class="t" style="left:141.2px;top:38.6px;font-size:29.2px;font-weight:bold;color:#141414;-webkit-text-stroke:0;text-rendering:geometricPrecision;transform:scaleY(1.055);transform-origin:0 26.43px;">Illumination Distance</div>
<div class="t" style="left:50.8px;top:93.5px;font-size:16px;font-weight:normal;word-spacing:1.3px;">55 W</div>
<div class="t" style="left:139.5px;top:93.5px;font-size:16px;font-weight:normal;">100W</div>
<div class="t" style="left:239.0px;top:93.5px;font-size:16px;font-weight:normal;">both</div>
<div class="t" style="left:333.0px;top:93.5px;font-size:16px;font-weight:normal;">70W</div>
<div class="t" style="left:413.2px;top:93.5px;font-size:16px;font-weight:normal;word-spacing:1.2px;">2 x 70W</div>
<div class="t" style="left:523.4px;top:445.5px;font-size:16px;font-weight:normal;letter-spacing:0.5px;">100m</div>
<div class="t" style="left:523.4px;top:398.2px;font-size:16px;font-weight:normal;letter-spacing:0.5px;">200m</div>
<div class="t" style="left:523.4px;top:350.9px;font-size:16px;font-weight:normal;letter-spacing:0.5px;">300m</div>
<div class="t" style="left:523.4px;top:303.5px;font-size:16px;font-weight:normal;letter-spacing:0.5px;">400m</div>
<div class="t" style="left:523.4px;top:256.2px;font-size:16px;font-weight:normal;letter-spacing:0.5px;">500m</div>
<div class="t" style="left:523.4px;top:208.9px;font-size:16px;font-weight:normal;letter-spacing:0.5px;">600m</div>
<div class="t" style="left:523.4px;top:161.5px;font-size:16px;font-weight:normal;letter-spacing:0.5px;">700m</div>
<div class="t" style="left:523.4px;top:114.2px;font-size:16px;font-weight:normal;letter-spacing:0.5px;">800m</div>
<div class="t" style="left:146.4px;top:508.0px;font-size:16px;font-weight:normal;">12V</div>
<div class="t" style="left:383.7px;top:508.2px;font-size:16px;font-weight:normal;letter-spacing:0.5px;">24V</div>
</body></html>
